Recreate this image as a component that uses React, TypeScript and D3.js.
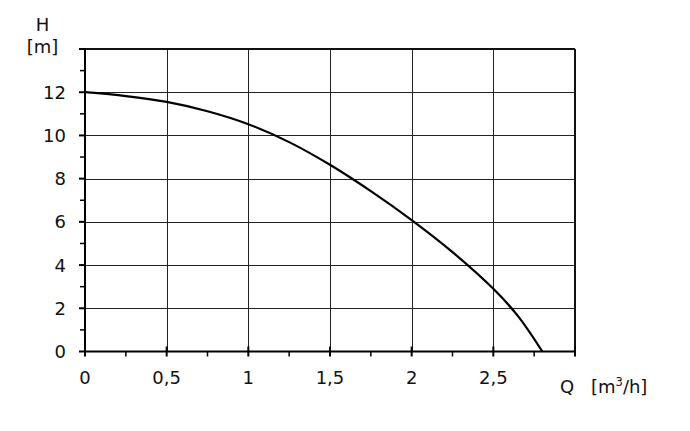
import React from "react";
import * as d3 from "d3";

const flowQ = [0, 0.25, 0.5, 0.75, 1.0, 1.25, 1.5, 1.75, 2.0, 2.25, 2.5, 2.65, 2.8];
const headH = [12, 11.82, 11.55, 11.12, 10.52, 9.69, 8.64, 7.42, 6.08, 4.6, 2.9, 1.65, 0];
const xTicks = [0, 0.5, 1, 1.5, 2, 2.5, 3];
const xTickLabels = ["0", "0,5", "1", "1,5", "2", "2,5", ""];
const xMinor = [0.25, 0.75, 1.25, 1.75, 2.25, 2.75];
const yTicks = [0, 2, 4, 6, 8, 10, 12, 14];
const yTickLabels = ["0", "2", "4", "6", "8", "10", "12", ""];
const yMinor = [1, 3, 5, 7, 9, 11, 13];

const W = 690, H = 431;
const left = 85, right = 575, top = 49, bottom = 351.5;
const font = "'DejaVu Sans', Verdana, sans-serif";
const fs = 18;

export default function App() {
  const x = d3.scaleLinear().domain([0, 3]).range([left, right]);
  const y = d3.scaleLinear().domain([0, 14]).range([bottom, top]);
  const pts: [number, number][] = flowQ.map((q, i) => [q, headH[i]]);
  const line = d3
    .line<[number, number]>()
    .x((d) => x(d[0]))
    .y((d) => y(d[1]))
    .curve(d3.curveCatmullRom.alpha(0.5));
  const r = (v: number) => Math.round(v) + 0.5;
  return (
    <svg width={W} height={H} style={{ position: "absolute", left: 0, top: 0, background: "#fff" }}>
      {/* grid */}
      {xTicks.slice(1, -1).map((t) => (
        <line key={"gx" + t} x1={r(x(t))} x2={r(x(t))} y1={top} y2={bottom} stroke="#222" strokeWidth={1} />
      ))}
      {yTicks.slice(1, -1).map((t) => (
        <line key={"gy" + t} x1={left} x2={right} y1={r(y(t))} y2={r(y(t))} stroke="#222" strokeWidth={1} />
      ))}
      {/* frame */}
      <line x1={left} x2={right} y1={top} y2={top} stroke="#111" strokeWidth={2} />
      <line x1={right} x2={right} y1={top} y2={bottom} stroke="#111" strokeWidth={2} />
      <line x1={left} x2={left} y1={top - 1} y2={bottom + 1} stroke="#000" strokeWidth={2} />
      <line x1={left - 1} x2={right + 1} y1={bottom} y2={bottom} stroke="#000" strokeWidth={2} />
      {/* x ticks */}
      {xTicks.map((t) => (
        <line key={"xt" + t} x1={x(t)} x2={x(t)} y1={bottom - 5} y2={bottom + 5} stroke="#000" strokeWidth={2} />
      ))}
      {xMinor.map((t) => (
        <line key={"xm" + t} x1={x(t)} x2={x(t)} y1={bottom} y2={bottom + 5} stroke="#000" strokeWidth={1.5} />
      ))}
      {/* y ticks */}
      {yTicks.map((t) => (
        <line key={"yt" + t} x1={left - 6} x2={left + 1} y1={y(t)} y2={y(t)} stroke="#000" strokeWidth={2} />
      ))}
      {yMinor.map((t) => (
        <line key={"ym" + t} x1={left - 5} x2={left} y1={y(t)} y2={y(t)} stroke="#000" strokeWidth={1.5} />
      ))}
      {/* labels */}
      {xTicks.map((t, i) => (
        <text key={"xl" + t} x={x(t)} y={383.5} textAnchor="middle" fontFamily={font} fontSize={fs} fill="#111">
          {xTickLabels[i]}
        </text>
      ))}
      {yTicks.map((t, i) => (
        <text key={"yl" + t} x={66} y={y(t)} dy="0.36em" textAnchor="end" fontFamily={font} fontSize={fs} fill="#111">
          {yTickLabels[i]}
        </text>
      ))}
      <text x={42.5} y={31} textAnchor="middle" fontFamily={font} fontSize={fs} fill="#111">H</text>
      <text x={42.5} y={53} textAnchor="middle" fontFamily={font} fontSize={fs} fill="#111">[m]</text>
      <text x={560} y={392.5} fontFamily={font} fontSize={fs} fill="#111">Q</text>
      <text x={591} y={392.5} fontFamily={font} fontSize={fs} fill="#111">
        [m<tspan fontSize={11.5} dy={-7}>3</tspan><tspan dy={7}>/h]</tspan>
      </text>
      {/* curve */}
      <path d={line(pts) || ""} fill="none" stroke="#000" strokeWidth={2.2} strokeLinejoin="round" />
    </svg>
  );
}
